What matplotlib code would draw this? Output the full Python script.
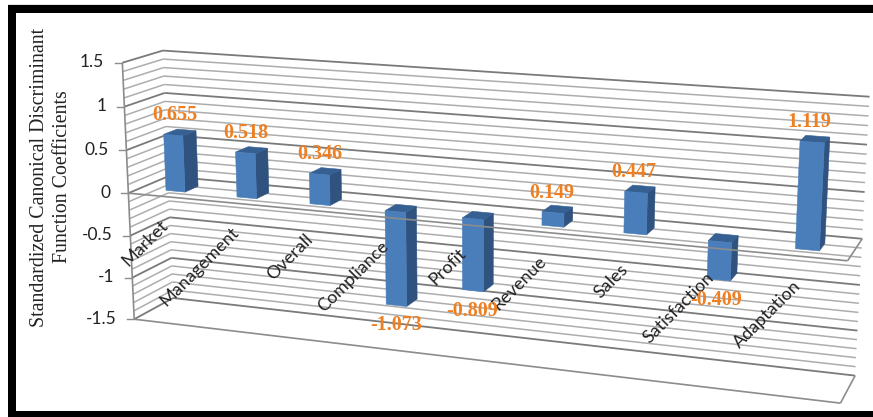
import numpy as np
import matplotlib
matplotlib.use('Agg')
import matplotlib.pyplot as plt
from matplotlib.patches import Polygon, Rectangle

# Chart data
categories = ['Market', 'Management', 'Overall', 'Compliance', 'Profit',
              'Revenue', 'Sales', 'Satisfaction', 'Adaptation']
coefficients = [0.655, 0.518, 0.346, -1.073, -0.809, 0.149, 0.447, -0.409, 1.119]
value_labels = ['0.655', '0.518', '0.346', '-1.073', '-0.809', '0.149', '0.447', '-0.409', '1.119']
major_ticks = [-1.5, -1, -0.5, 0, 0.5, 1, 1.5]
tick_labels = ['-1.5', '-1', '-0.5', '0', '0.5', '1', '1.5']

Y_MIN, Y_MAX = -1.5, 1.5
BAR_WIDTH = 0.27
BAR_Z = (0.30, 0.64)

# Camera calibration: (slot, value, depth) -> pixel
CAL_WORLD = [(0, 1.5, 0), (0, 0, 0), (0, -1.5, 0), (0, 1.5, 1), (0, 0, 1), (0, -1.5, 1),
             (9, 0, 0), (9, -1.5, 0), (9, 1.5, 1), (9, 0, 1), (9, -1.5, 1)]
CAL_PIXEL = [(123, 63), (127, 193), (135, 319), (163, 50), (168, 177), (173, 298),
             (848, 260), (840, 404), (870, 97), (861, 239), (856, 375)]


def fit_camera(world, pixel):
    rows, rhs = [], []
    for (x, y, z), (u, v) in zip(world, pixel):
        rows.append([x, y, z, 1, 0, 0, 0, 0, -u * x, -u * y, -u * z])
        rows.append([0, 0, 0, 0, x, y, z, 1, -v * x, -v * y, -v * z])
        rhs += [u, v]
    p = np.linalg.lstsq(np.array(rows, float), np.array(rhs, float), rcond=None)[0]
    return np.append(p, 1).reshape(3, 4)


CAM = fit_camera(CAL_WORLD, CAL_PIXEL)


def project(x, y, z):
    u, v, w = CAM @ np.array([x, y, z, 1.0])
    return u / w, v / w


def line3d(ax, a, b, **kw):
    pa, pb = project(*a), project(*b)
    ax.plot([pa[0], pb[0]], [pa[1], pb[1]], solid_capstyle='butt', **kw)


def face(ax, pts, color, zorder):
    ax.add_patch(Polygon([project(*p) for p in pts], closed=True, facecolor=color,
                         edgecolor=color, lw=0.4, zorder=zorder))


fig = plt.figure(figsize=(8.73, 4.17), dpi=100)
ax = fig.add_axes([0, 0, 1, 1])
ax.set_xlim(0, 873)
ax.set_ylim(417, 0)
ax.axis('off')

# Black frame round the chart area
ax.add_patch(Rectangle((8, 4), 865, 1, facecolor='#e4e4e4', edgecolor='none', zorder=0))
ax.add_patch(Rectangle((8, 5), 865, 412, facecolor='black', edgecolor='none', zorder=0))
ax.add_patch(Rectangle((16, 13), 857, 398, facecolor='white', edgecolor='none', zorder=0.5))

# Walls: every 0.1 on back and side, majors darker
n_lines = int(round((Y_MAX - Y_MIN) * 10))
for k in range(n_lines + 1):
    y = Y_MIN + k * 0.1
    is_major = k % 5 == 0
    style = dict(color='#7a7a7a' if is_major else '#adadad', lw=1.3 if is_major else 1.1, zorder=1)
    line3d(ax, (0, y, 0), (0, y, 1), **style)
    line3d(ax, (0, y, 1), (9, y, 1), **style)

# Value axis and tick marks
line3d(ax, (0, Y_MIN, 0), (0, Y_MAX, 0), color='#8c8c8c', lw=1.2, zorder=2)
for t, lab in zip(major_ticks, tick_labels):
    px, py = project(0, t, 0)
    ax.plot([px - 7, px], [py, py], color='#8c8c8c', lw=1.0, zorder=2)
    ax.text(px - 18, py - 0.5, lab, ha='right', va='center', family='Lato', fontsize=12.5, color='#222222')

# Floor outline at the axis minimum
for a, b in [((0, Y_MIN, 0), (9, Y_MIN, 0)), ((9, Y_MIN, 0), (9, Y_MIN, 1))]:
    line3d(ax, a, b, color='#8c8c8c', lw=1.2, zorder=2)

# Zero plane, back side and right edge
line3d(ax, (9, 0, 0), (9, 0, 1), color='#8c8c8c', lw=1.2, zorder=2)

# Bars
for i, val in enumerate(coefficients):
    x0, x1 = i + 0.5 - BAR_WIDTH / 2, i + 0.5 + BAR_WIDTH / 2
    z0, z1 = BAR_Z
    lo, hi = min(0, val), max(0, val)
    zo = 3 + i * 0.01
    face(ax, [(x1, lo, z0), (x1, lo, z1), (x1, hi, z1), (x1, hi, z0)], '#2f527f', zo)
    face(ax, [(x0, hi, z0), (x1, hi, z0), (x1, hi, z1), (x0, hi, z1)], '#376092', zo)
    face(ax, [(x0, lo, z0), (x1, lo, z0), (x1, hi, z0), (x0, hi, z0)], '#4a7ebb', zo)

# Front edge of the zero plane passes over the negative bars
line3d(ax, (0, 0, 0), (9, 0, 0), color='#8c8c8c', lw=1.2, zorder=4)

# Value labels
for i, (val, lab) in enumerate(zip(coefficients, value_labels)):
    px, py = project(i + 0.5, val, BAR_Z[0])
    off = -20 if val >= 0 else 20
    ax.text(px + 1.5 - 0.6 * i, py + off, lab, ha='center', va='center', family='Liberation Serif',
            fontweight='bold', fontsize=14.5, color='#ee7f22', zorder=6)

# Category labels
for i, cat in enumerate(categories):
    px, py = project(i + 0.5, 0, 0)
    ax.text(px + 2 - 0.7 * i, py + 26.5, cat, rotation=45, rotation_mode='anchor', ha='right', va='center',
            family='Lato', fontsize=13, color='#222222', zorder=5)

# Axis title, two lines
ax.text(51, 177, 'Standardized Canonical Discriminant\nFunction Coefficients', rotation=90,
        ha='center', va='center', multialignment='center', family='Liberation Serif',
        fontsize=14.3, color='#222222', linespacing=1.3)

fig.savefig('out.png', dpi=100)
